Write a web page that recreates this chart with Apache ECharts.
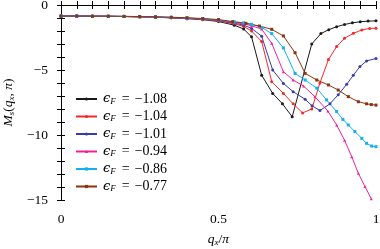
<!DOCTYPE html>
<html><head><meta charset="utf-8">
<script src="https://cdn.jsdelivr.net/npm/echarts@6/dist/echarts.min.js"></script>
<style>html,body{margin:0;padding:0;background:#fff}#c{width:380px;height:249px}</style>
</head><body><div id="c"></div>
<script>
const legendLabels = ['−1.08', '−1.04', '−1.01', '−0.94', '−0.86', '−0.77'];
const xTickLabels = ['0', '0.5', '1'];
const yTickLabels = ['0', '−5', '−10', '−15'];

const qBlack = [0,0.05,0.1,0.15,0.2,0.25,0.3,0.35,0.4,0.45,0.5,0.55,0.58,0.605,0.637,0.672,0.703,0.734,0.796,0.825,0.85,0.875,0.9,0.925,0.95,0.975,1.0];
const mBlack = [-0.85,-0.85,-0.86,-0.87,-0.89,-0.91,-0.94,-0.99,-1.05,-1.13,-1.27,-1.55,-1.85,-2.45,-5.4,-6.8,-7.6,-8.6,-3.0,-2.2,-1.9,-1.67,-1.5,-1.37,-1.29,-1.24,-1.22];

const qRed = [0,0.05,0.1,0.15,0.2,0.25,0.3,0.35,0.4,0.45,0.5,0.55,0.58,0.605,0.637,0.669,0.706,0.737,0.767,0.796,0.822,0.849,0.875,0.9,0.928,0.955,0.98,1.0];
const mRed = [-0.85,-0.85,-0.86,-0.87,-0.89,-0.91,-0.94,-0.98,-1.04,-1.11,-1.22,-1.45,-1.65,-2.0,-2.8,-5.9,-6.8,-7.6,-8.3,-8.0,-6.0,-4.2,-3.2,-2.56,-2.18,-1.92,-1.8,-1.78];

const qBlue = [0,0.05,0.1,0.15,0.2,0.25,0.3,0.35,0.4,0.45,0.5,0.55,0.58,0.605,0.637,0.672,0.706,0.737,0.775,0.797,0.822,0.854,0.88,0.907,0.928,0.949,0.97,1.0];
const mBlue = [-0.85,-0.85,-0.86,-0.87,-0.88,-0.9,-0.93,-0.97,-1.02,-1.09,-1.19,-1.4,-1.55,-1.8,-2.4,-5.0,-6.03,-6.67,-7.25,-7.75,-8.12,-7.6,-6.9,-6.1,-5.4,-4.74,-4.3,-4.12];

const qPink = [0,0.05,0.1,0.15,0.2,0.25,0.3,0.35,0.4,0.45,0.5,0.55,0.58,0.605,0.637,0.669,0.706,0.737,0.77,0.806,0.847,0.875,0.9,0.923,0.944,0.965,0.985];
const mPink = [-0.85,-0.85,-0.86,-0.87,-0.88,-0.9,-0.93,-0.96,-1.01,-1.08,-1.17,-1.35,-1.45,-1.6,-1.85,-2.95,-5.13,-5.77,-6.23,-7.05,-8.15,-9.23,-10.4,-11.67,-12.95,-13.97,-14.9];

const qCyan = [0,0.05,0.1,0.15,0.2,0.25,0.3,0.35,0.4,0.45,0.5,0.55,0.58,0.605,0.637,0.669,0.706,0.743,0.775,0.812,0.843,0.875,0.895,0.912,0.933,0.955,0.97,0.986,1.0];
const mCyan = [-0.85,-0.85,-0.86,-0.87,-0.88,-0.9,-0.92,-0.95,-1.0,-1.06,-1.15,-1.3,-1.37,-1.48,-1.72,-2.2,-3.3,-5.26,-5.77,-6.4,-7.3,-8.2,-8.8,-9.23,-9.74,-10.26,-10.64,-10.85,-10.9];

const qBrown = [0,0.05,0.1,0.15,0.2,0.25,0.3,0.35,0.4,0.45,0.5,0.545,0.587,0.63,0.669,0.706,0.743,0.775,0.812,0.849,0.88,0.912,0.944,0.97,0.985,1.0];
const mBrown = [-0.85,-0.85,-0.86,-0.86,-0.87,-0.89,-0.91,-0.94,-0.98,-1.04,-1.12,-1.28,-1.41,-1.62,-1.87,-2.38,-3.67,-5.26,-5.77,-6.15,-6.54,-7.05,-7.44,-7.6,-7.66,-7.7];

const colors = ['#1a1a1a', '#f52828', '#3a3aa8', '#f0209a', '#12b0f0', '#8a3510'];
const symbols = ['circle', 'circle', 'circle', 'triangle', 'rect', 'rect'];
const qs = [qBlack, qRed, qBlue, qPink, qCyan, qBrown];
const ms = [mBlack, mRed, mBlue, mPink, mCyan, mBrown];

const FONT = 'Liberation Serif';
const zip = (a, b) => a.map((v, i) => [v, b[i]]);

const series = qs.map((q, i) => ({
  name: legendLabels[i],
  type: 'line',
  data: zip(q, ms[i]),
  symbol: symbols[i],
  symbolSize: 3,
  showSymbol: true,
  color: colors[i],
  lineStyle: { width: 1, color: colors[i] },
  itemStyle: { color: colors[i] },
  clip: true,
  animation: false,
  xAxisIndex: 0, yAxisIndex: 0
}));

const near = (v, t) => Math.abs(v - t) < 1e-6;
const xFmt = v => near(v, 0) ? xTickLabels[0] : near(v, 0.5) ? xTickLabels[1] : near(v, 1) ? xTickLabels[2] : '';
const yFmt = v => near(v, 0) ? yTickLabels[0] : near(v, -5) ? yTickLabels[1] : near(v, -10) ? yTickLabels[2] : near(v, -15) ? yTickLabels[3] : '';

const axisLine = { show: true, lineStyle: { color: '#000', width: 1 } };
const chart = echarts.init(document.getElementById('c'), null, { renderer: 'canvas' });
chart.setOption({
  animation: false,
  backgroundColor: '#fff',
  grid: { left: 61, right: 4, top: 5, bottom: 49, containLabel: false, outerBoundsMode: 'none' },
  xAxis: [{
    type: 'value', min: 0, max: 1, interval: 0.05, position: 'bottom',
    axisLine, splitLine: { show: false },
    axisTick: { show: true, inside: true, length: 4, lineStyle: { color: '#000' } },
    axisLabel: { formatter: xFmt, margin: 12, color: '#000', fontFamily: FONT, fontSize: 13.5, showMinLabel: true, showMaxLabel: true },
    name: '{i|q}{s|x}{n|/}{i|π}', nameLocation: 'middle', nameGap: 32,
    nameTextStyle: { fontFamily: FONT, fontSize: 13.5, color: '#000', rich: {
      i: { fontFamily: FONT, fontStyle: 'italic', fontSize: 13.5, color: '#000' },
      n: { fontFamily: FONT, fontSize: 13.5, color: '#000' },
      s: { fontFamily: FONT, fontStyle: 'italic', fontSize: 9, color: '#000', verticalAlign: 'bottom', padding: [6, 0, 0, 0] } } }
  }, {
    type: 'value', min: 0, max: 1, interval: 0.05, position: 'top',
    axisLine, splitLine: { show: false },
    axisTick: { show: true, inside: true, length: 4, lineStyle: { color: '#000' } },
    axisLabel: { show: false }
  }],
  yAxis: [{
    type: 'value', min: -15, max: 0, interval: 1, position: 'left',
    axisLine, splitLine: { show: false },
    axisTick: { show: true, inside: true, length: 4, lineStyle: { color: '#000' } },
    axisLabel: { formatter: yFmt, margin: 13, color: '#000', fontFamily: FONT, fontSize: 13.5, showMinLabel: true, showMaxLabel: true },
    name: '{i|M}{s|s}{n|(}{i|q}{s|x}{n|, }{i|π}{n|)}', nameLocation: 'middle', nameGap: 44, nameRotate: 90,
    nameTextStyle: { fontFamily: FONT, fontSize: 13.5, color: '#000', rich: {
      i: { fontFamily: FONT, fontStyle: 'italic', fontSize: 13.5, color: '#000' },
      n: { fontFamily: FONT, fontSize: 13.5, color: '#000' },
      s: { fontFamily: FONT, fontStyle: 'italic', fontSize: 9, color: '#000', verticalAlign: 'bottom', padding: [6, 0, 0, 0] } } }
  }, {
    type: 'value', min: -15, max: 0, interval: 1, position: 'right',
    axisLine, splitLine: { show: false },
    axisTick: { show: true, inside: true, length: 4, lineStyle: { color: '#000' } },
    axisLabel: { show: false }
  }],
  legend: {
    orient: 'vertical', left: 70, top: 87,
    itemWidth: 21, itemHeight: 4, itemGap: 3.5,
    data: legendLabels,
    formatter: name => '{e|ϵ}{s|F}{q|=}{n|' + name + '}',
    textStyle: { fontFamily: FONT, fontSize: 14, lineHeight: 14, color: '#000', padding: [0, 0, 0, 1], rich: {
      e: { fontFamily: 'DejaVu Serif', fontStyle: 'italic', fontSize: 13, lineHeight: 14, color: '#000' },
      n: { fontFamily: FONT, fontSize: 14, lineHeight: 14, color: '#000' },
      q: { fontFamily: FONT, fontSize: 14, lineHeight: 14, color: '#000', padding: [0, 5, 0, 6] },
      s: { fontFamily: FONT, fontStyle: 'italic', fontSize: 9, lineHeight: 14, color: '#000', verticalAlign: 'bottom', padding: [4, 0, 0, 0] } } }
  },
  series
});
</script></body></html>
